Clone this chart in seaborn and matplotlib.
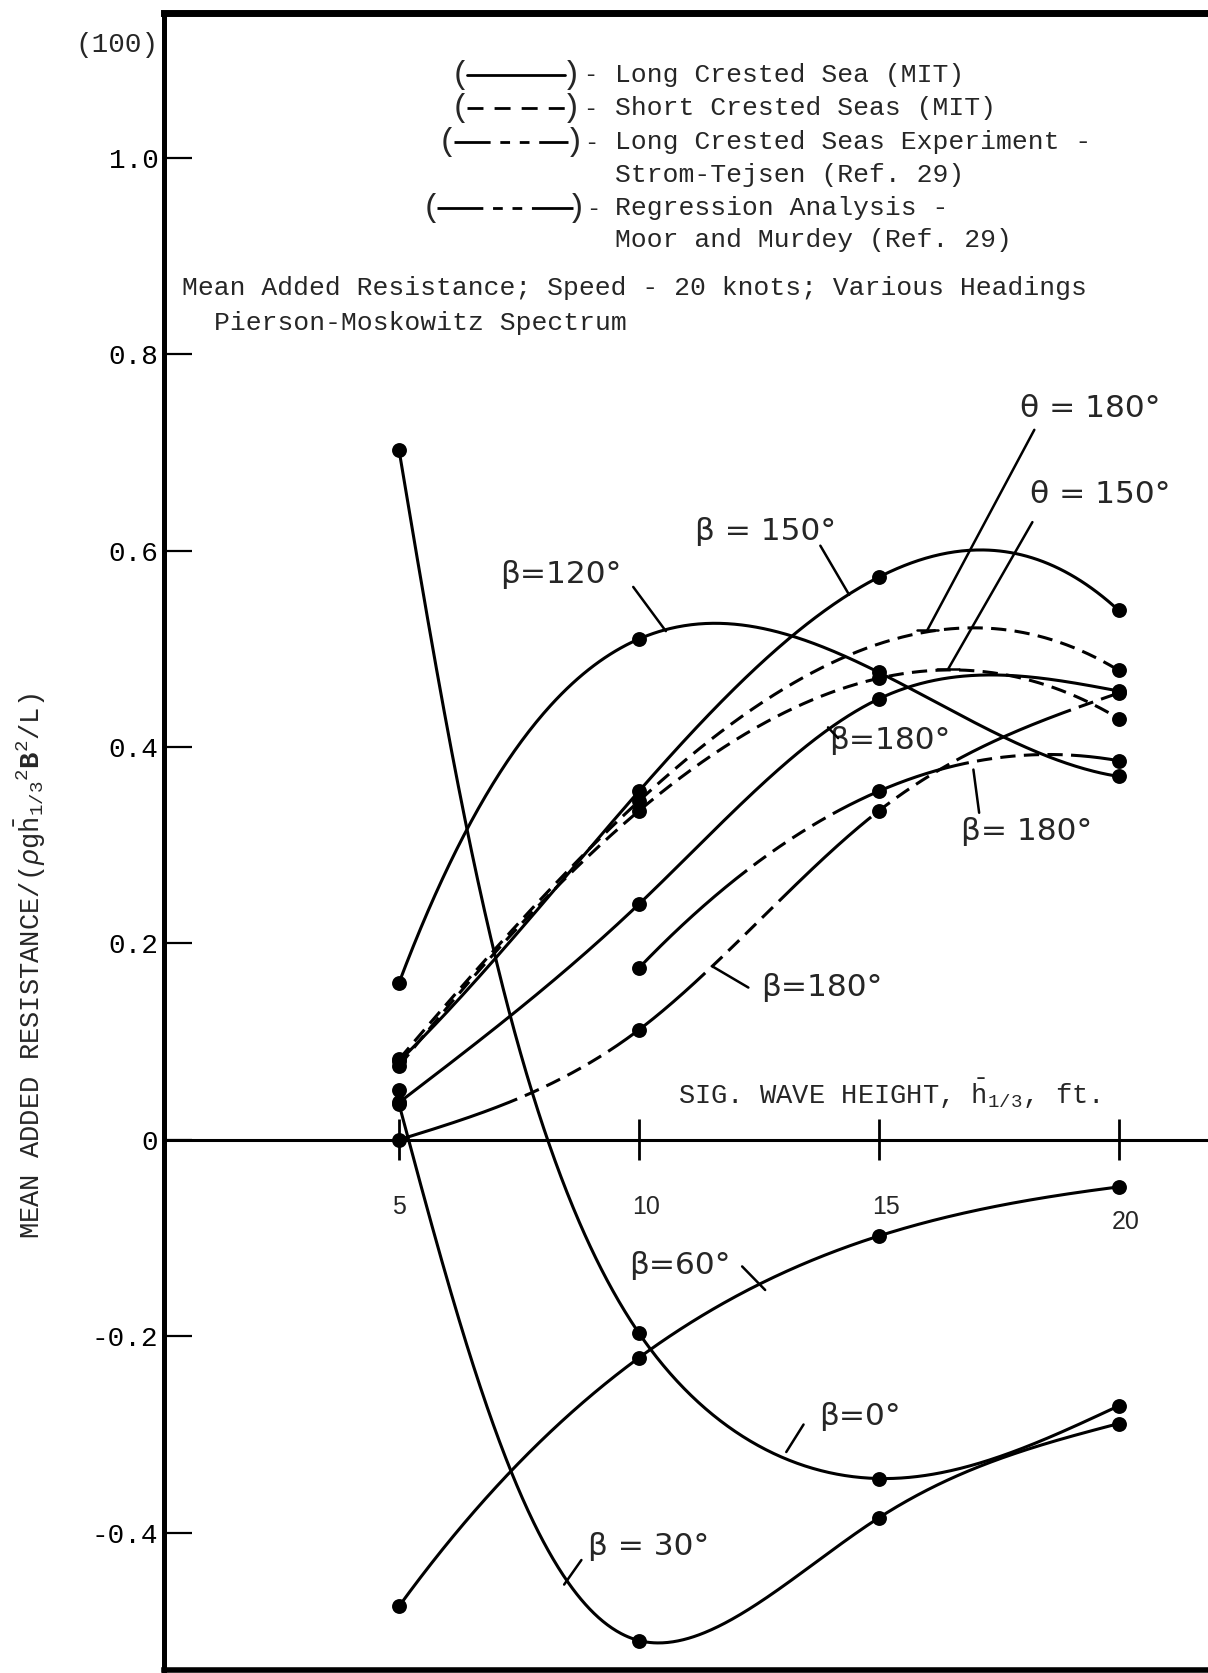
import numpy as np
import pandas as pd
import matplotlib
matplotlib.use("Agg")
import matplotlib.pyplot as plt
from matplotlib.lines import Line2D
import seaborn as sns

W, H = 1208, 1673

# Significant wave height (ft)
heights = [5, 10, 15, 20]
height_labels = ["5", "10", "15", "20"]

y_ticks = [-0.4, -0.2, 0.0, 0.2, 0.4, 0.6, 0.8, 1.0]
y_tick_labels = ["-0.4", "-0.2", "0", "0.2", "0.4", "0.6", "0.8", "1.0"]

# Long crested sea (MIT)
lc_beta0 = [0.702, -0.197, -0.345, -0.271]
lc_beta30 = [0.036, -0.510, -0.385, -0.289]
lc_beta60 = [-0.475, -0.222, -0.098, -0.048]
lc_beta120 = [0.160, 0.510, 0.476, 0.370]
lc_beta150 = [0.080, 0.355, 0.573, 0.539]
lc_beta180 = [0.038, 0.240, 0.449, 0.457]
# Short crested seas (MIT)
sc_theta180 = [0.082, 0.345, 0.505, 0.478]
sc_theta150 = [0.075, 0.335, 0.470, 0.429]
# Long crested seas experiment, Strom-Tejsen
exp_beta180 = [0.051, 0.175, 0.355, 0.386]
# Regression analysis, Moor and Murdey
reg_beta180 = [0.000, 0.112, 0.335, 0.455]

sns.set_theme(style="white")
plt.rcParams.update({
    "font.family": ["Liberation Mono", "DejaVu Sans"],
    "mathtext.fontset": "custom",
    "mathtext.rm": "Liberation Mono",
    "mathtext.it": "Liberation Mono:italic",
    "mathtext.bf": "Liberation Mono:bold",
    "lines.scale_dashes": False,
    "axes.edgecolor": "black",
})

SOLID = "-"
SHORT = (0, (11, 6))
EXPER = (0, (105, 6, 11, 6, 11, 6, 11, 6, 11, 6))
REGR = (0, (90, 6, 11, 6, 11, 6, 11, 6, 11, 6))

# pixels per data unit, used for the drawn-curve parameterisation
PX_X, PX_Y = 48.0, 982.0


def natural_spline(x, y, xs):
    x = np.asarray(x, float)
    y = np.asarray(y, float)
    n = len(x)
    h = np.diff(x)
    A = np.zeros((n, n))
    r = np.zeros(n)
    A[0, 0] = A[-1, -1] = 1.0
    for i in range(1, n - 1):
        A[i, i - 1] = h[i - 1]
        A[i, i] = 2 * (h[i - 1] + h[i])
        A[i, i + 1] = h[i]
        r[i] = 3 * ((y[i + 1] - y[i]) / h[i] - (y[i] - y[i - 1]) / h[i - 1])
    c = np.linalg.solve(A, r)
    b = (y[1:] - y[:-1]) / h - h * (2 * c[:-1] + c[1:]) / 3
    d = (c[1:] - c[:-1]) / (3 * h)
    idx = np.clip(np.searchsorted(x, xs, side="right") - 1, 0, n - 2)
    t = xs - x[idx]
    return y[idx] + b[idx] * t + c[idx] * t ** 2 + d[idx] * t ** 3


def poly_curve(x, y, n=400):
    xs = np.linspace(x[0], x[-1], n)
    return xs, np.polyval(np.polyfit(x, y, len(x) - 1), xs)


def natural_curve(x, y, n=400):
    xs = np.linspace(x[0], x[-1], n)
    return xs, natural_spline(x, y, xs)


def path_curve(x, y, n=600, alpha=0.5):
    # natural spline along the (centripetal) chord length of the drawn path
    X = np.asarray(x, float) * PX_X
    Y = np.asarray(y, float) * PX_Y
    seg = np.hypot(np.diff(X), np.diff(Y)) ** alpha
    s = np.concatenate([[0.0], np.cumsum(seg)])
    ss = np.linspace(0, s[-1], n)
    return natural_spline(s, X, ss) / PX_X, natural_spline(s, Y, ss) / PX_Y


curves = [
    dict(y=lc_beta0, ls=SOLID, fit=path_curve, marks=[1, 1, 1, 1], start=0),
    dict(y=lc_beta30, ls=SOLID, fit=path_curve, marks=[1, 1, 1, 1], start=0),
    dict(y=lc_beta60, ls=SOLID, fit=poly_curve, marks=[1, 1, 1, 1], start=0),
    dict(y=lc_beta120, ls=SOLID, fit=poly_curve, marks=[1, 1, 1, 1], start=0),
    dict(y=lc_beta150, ls=SOLID, fit=poly_curve, marks=[1, 1, 1, 1], start=0),
    dict(y=lc_beta180, ls=SOLID, fit=natural_curve, marks=[1, 1, 1, 1], start=0),
    dict(y=sc_theta180, ls=SHORT, fit=poly_curve, marks=[1, 1, 0, 1], start=0),
    dict(y=sc_theta150, ls=SHORT, fit=poly_curve, marks=[1, 1, 1, 1], start=0),
    dict(y=exp_beta180, ls=EXPER, fit=poly_curve, marks=[1, 1, 1, 1], start=1),
    dict(y=reg_beta180, ls=REGR, fit=natural_curve, marks=[1, 1, 1, 1], start=0),
]

fig = plt.figure(figsize=(W / 100, H / 100), dpi=100)
fig.patch.set_facecolor("white")

# axes frame: left spine at x=164 px, top at 12.5 px, bottom at 1670 px
ax = fig.add_axes([164 / W, 1 - 1670 / H, 1 - 164 / W, (1670 - 12.5) / H])
ax.set_facecolor("white")
ax.set_xlim(0.10, 21.86)
ax.set_ylim(-0.540, 1.148)

for c in curves:
    x = np.array(heights[c["start"]:], float)
    y = np.array(c["y"][c["start"]:], float)
    xs, ys = c["fit"](x, y)
    ax.plot(xs, ys, color="black", lw=2.2, linestyle=c["ls"], zorder=3)
    pts = pd.DataFrame({"h": heights, "r": c["y"], "m": c["marks"]})
    pts = pts[pts["m"] == 1]
    sns.scatterplot(data=pts, x="h", y="r", ax=ax, color="black", s=115,
                    linewidth=0, zorder=5, legend=False)

# zero line with wave-height ticks
ax.axhline(0, color="black", lw=2.2, zorder=2)
ax.vlines(heights, -0.021, 0.021, color="black", lw=2.0, zorder=2)
for h, lab in zip(heights, height_labels):
    yy = -0.084 if h == 20 else -0.068
    ax.text(h + (0.15 if h >= 10 else 0.0), yy, lab, ha="center", va="center",
            fontsize=18, family=["Liberation Sans", "DejaVu Sans"])

ax.text(10.81, 0.047, r"SIG. WAVE HEIGHT, $\bar{\mathrm{h}}_{1/3}$, ft.",
        ha="left", va="center", fontsize=19.5)

# spines
for side in ["left", "top", "bottom"]:
    ax.spines[side].set_visible(True)
    ax.spines[side].set_color("black")
ax.spines["left"].set_linewidth(3.6)
ax.spines["top"].set_linewidth(5.0)
ax.spines["bottom"].set_linewidth(4.0)
ax.spines["right"].set_visible(False)

ax.set_xticks([])
ax.set_yticks(y_ticks)
ax.set_yticklabels(y_tick_labels)
ax.tick_params(axis="y", direction="in", length=20, width=1.6, pad=4,
               labelsize=20, left=True, colors="black")
ax.set_xlabel("")
ax.set_ylabel("")
ax.grid(False)

fig.text(158 / W, 1 - 45 / H, "(100)", ha="right", va="center", fontsize=20)

fig.text(30 / W, 1 - 966 / H,
         r"MEAN ADDED RESISTANCE/($\rho$g$\bar{\mathrm{h}}_{1/3}{}^{2}\mathbf{B}^{2}$/L)",
         rotation=90, ha="center", va="center", fontsize=19.5)

# curve labels with leader lines
hand = ["DejaVu Sans"]
labels = [
    ("β=120°", 8.38, 0.576, [(9.88, 0.563), (10.56, 0.518)], False),
    ("β = 150°", 12.63, 0.619, [(13.78, 0.605), (14.38, 0.555)], False),
    ("θ = 180°", 19.41, 0.745, [(18.24, 0.723), (16.01, 0.519)], True),
    ("θ = 150°", 19.61, 0.657, [(18.20, 0.629), (16.44, 0.479)], True),
    ("β=180°", 15.23, 0.407, [(13.94, 0.420), (14.15, 0.409)], False),
    ("β= 180°", 18.09, 0.314, [(16.97, 0.377), (17.09, 0.333)], False),
    ("β=180°", 13.81, 0.155, [(11.55, 0.176), (12.28, 0.155)], False),
    ("β=60°", 10.86, -0.128, [(12.15, -0.129), (12.63, -0.153)], False),
    ("β=0°", 14.61, -0.282, [(13.43, -0.290), (13.07, -0.318)], False),
    ("β = 30°", 10.21, -0.414, [(8.80, -0.428), (8.44, -0.453)], False),
]
for txt, tx, ty, seg, tbar in labels:
    ax.text(tx, ty, txt, ha="center", va="center", fontsize=22.5, family=hand)
    (x0, y0), (x1, y1) = seg
    ax.plot([x0, x1], [y0, y1], color="black", lw=1.8, zorder=4)
    if tbar:
        ax.plot([x1 - 0.22, x1 + 0.22], [y1, y1], color="black", lw=1.8, zorder=4)


# key
def fx(px):
    return px / W


def fy(py):
    return 1 - py / H


key_rows = [
    (75, 460, 467, 565, 571, 590, SOLID, "Long Crested Sea (MIT)"),
    (108, 460, 467, 565, 571, 590, (0, (11.5, 8)), "Short Crested Seas (MIT)"),
    (142, 447, 454, 568, 574, 591, (0, (26, 7, 7, 7, 7, 7)), "Long Crested Seas Experiment -"),
    (208, 431, 437, 573, 576, 593, (0, (33, 7, 7, 7, 7, 7)), "Regression Analysis -"),
]
for py, lp, x0, x1, rp, dp, ls, txt in key_rows:
    fig.text(fx(lp), fy(py), "(", ha="center", va="center", fontsize=23)
    fig.add_artist(Line2D([fx(x0), fx(x1)], [fy(py), fy(py)], transform=fig.transFigure,
                          color="black", lw=2.0, linestyle=ls))
    fig.text(fx(rp), fy(py), ")", ha="center", va="center", fontsize=23)
    fig.text(fx(dp), fy(py), "-", ha="center", va="center", fontsize=17)
    fig.text(fx(615), fy(py), txt, ha="left", va="center", fontsize=19)
fig.text(fx(615), fy(175), "Strom-Tejsen (Ref. 29)", ha="left", va="center", fontsize=19)
fig.text(fx(615), fy(240), "Moor and Murdey (Ref. 29)", ha="left", va="center", fontsize=19)

fig.text(fx(182), fy(288), "Mean Added Resistance; Speed - 20 knots; Various Headings",
         ha="left", va="center", fontsize=19)
fig.text(fx(214), fy(323), "Pierson-Moskowitz Spectrum", ha="left", va="center", fontsize=19)

fig.savefig("out.png", dpi=100, facecolor="white")
